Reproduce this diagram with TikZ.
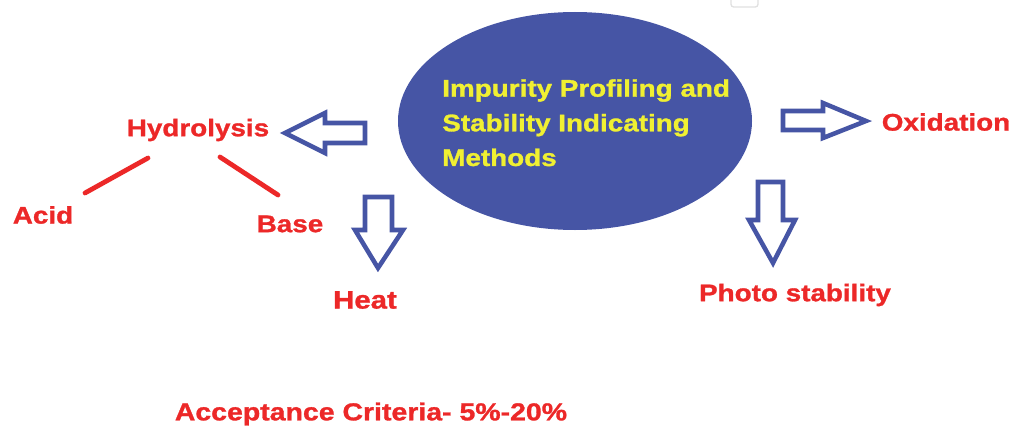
\documentclass[tikz,border=0pt]{standalone}
\usepackage{fontspec}
\setmainfont{Liberation Sans}
\newfontfamily\lbold[FakeStretch=1.16,FakeBold=1.2]{Liberation Sans Bold}
\definecolor{ellblue}{RGB}{70,85,165}
\definecolor{labred}{RGB}{236,40,40}
\definecolor{ttyellow}{RGB}{240,240,50}
\begin{document}
\begin{tikzpicture}[x=0.75pt,y=-0.75pt,
  lab/.style={text=labred,font=\lbold\fontsize{18}{20}\selectfont,inner sep=0pt,anchor=center},
  blockarrow/.style={draw=ellblue,fill=white,line width=3.4pt,line join=miter},
  redline/.style={draw=labred,line width=3.6pt,line cap=round}]
\useasboundingbox (0,0) rectangle (1013,428);
% faint box at top
\draw[draw=black!12,line width=1pt,rounded corners=2pt] (731,-4) rectangle (758,7);
% central ellipse
\fill[ellblue] (575,121) ellipse [x radius=177, y radius=109];
\node (main) at (575,121) {};
\node[text=ttyellow,font=\lbold\fontsize{18}{26}\selectfont,align=left,anchor=north west,inner sep=0pt] (maintext) at (442,79)
  {Impurity Profiling and\\Stability Indicating\\Methods};
% labels
\node[lab] (hyd) at (198,130) {Hydrolysis};
\node[lab] (acid) at (43,215) {Acid};
\node[lab] (base) at (290,224) {Base};
\node[lab,font=\lbold\fontsize{19}{20}\selectfont] (heat) at (365,300) {Heat};
\node[lab] (photo) at (795,295) {Photo stability};
\node[lab] (oxi) at (946,122) {Oxidation};
\node[lab,font=\lbold\fontsize{18.4}{20}\selectfont] (acc) at (371,414) {Acceptance Criteria- 5\%-20\%};
% red lines
\coordinate (a1) at (148,158); \coordinate (a2) at (85,193);
\coordinate (b1) at (220,157); \coordinate (b2) at (278,195);
\draw[redline] (a1) -- (a2);
\draw[redline] (b1) -- (b2);
% left arrow
\draw[blockarrow] (285,133) -- (325,113) -- (325,123) -- (365,123) -- (365,143) -- (325,143) -- (325,153) -- cycle;
% right arrow
\draw[blockarrow] (866,121) -- (823,103) -- (823,111) -- (783,111) -- (783,130) -- (823,130) -- (823,138) -- cycle;
% heat down arrow
\draw[blockarrow] (378,268) -- (355,230) -- (365,230) -- (365,197) -- (392,197) -- (392,230) -- (403,230) -- cycle;
% photo down arrow
\draw[blockarrow] (773,263) -- (749,220) -- (758,220) -- (758,182) -- (783,182) -- (783,220) -- (795,220) -- cycle;
\end{tikzpicture}
\end{document}
